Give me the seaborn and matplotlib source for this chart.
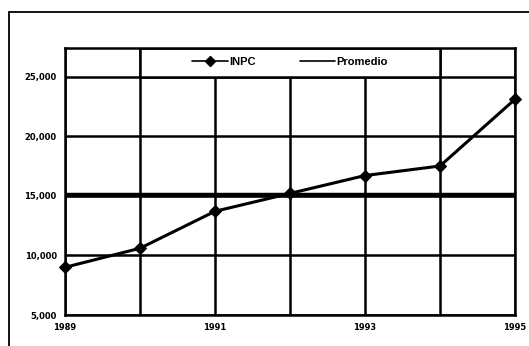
import matplotlib
matplotlib.use("Agg")
import matplotlib.pyplot as plt
from matplotlib.lines import Line2D
from matplotlib.patches import Rectangle
import seaborn as sns
import pandas as pd

years = [1989, 1990, 1991, 1992, 1993, 1994, 1995]
inpc = [9000, 10600, 13700, 15200, 16700, 17500, 23100]
promedio = 15100
ytick_values = [5000, 10000, 15000, 20000, 25000]
ytick_labels = ["5,000", "10,000", "15,000", "20,000", "25,000"]
xtick_labels = ["1989", "", "1991", "", "1993", "", "1995"]
legend_labels = ["INPC", "Promedio"]

sns.set_theme(style="white")
plt.rcParams["font.family"] = ["Liberation Sans Narrow", "Liberation Sans", "DejaVu Sans"]
plt.rcParams["text.color"] = "black"
plt.rcParams["xtick.color"] = "black"
plt.rcParams["ytick.color"] = "black"

df = pd.DataFrame({"Año": years, "INPC": inpc})

fig = plt.figure(figsize=(5.29, 3.46), dpi=100)
W, H = 529, 346
ax = fig.add_axes([65 / W, 1 - 315 / H, 450 / W, 267 / H])

# outer frame (left and top only visible)
fig.add_artist(Line2D([9 / W, 9 / W], [0, 1 - 12 / H], color="black", lw=1.3))
fig.add_artist(Line2D([9 / W, 1], [1 - 12 / H, 1 - 12 / H], color="black", lw=1.3))

ax.set_xlim(years[0], years[-1])
ax.set_ylim(ytick_values[0], 27400)

ax.set_xticks(years)
ax.set_xticklabels(xtick_labels)
ax.set_yticks(ytick_values)
ax.set_yticklabels(ytick_labels)
ax.grid(True, color="black", lw=1.8)
ax.set_axisbelow(True)
ax.tick_params(length=0, pad=6)
for lab in ax.get_xticklabels() + ax.get_yticklabels():
    lab.set_fontweight("bold")
    lab.set_fontfamily("DejaVu Sans")
    lab.set_fontsize(6)
    lab.set_color("black")
for s in ax.spines.values():
    s.set_color("black")
    s.set_linewidth(1.8)

# legend band covering the top gridlines between 1990 and 1994
band = Rectangle((years[1], ytick_values[-1]), years[5] - years[1], 27400 - ytick_values[-1],
                 facecolor="white", edgecolor="black", lw=1.8, zorder=2.5)
ax.add_patch(band)

ax.axhline(promedio, color="black", lw=3.2, zorder=3)
sns.lineplot(data=df, x="Año", y="INPC", ax=ax, color="black", lw=2.2,
             marker="D", markersize=6.5, markeredgecolor="black", zorder=4,
             clip_on=False)
ax.set_xlabel("")
ax.set_ylabel("")

handles = [Line2D([], [], color="black", lw=1.2, marker="D", markersize=5.5),
           Line2D([], [], color="black", lw=1.2)]
leg = ax.legend(handles, legend_labels, loc="center", ncol=2, frameon=False,
                bbox_to_anchor=((years[3] - years[0]) / (years[-1] - years[0]),
                                (26200 - 5000) / (27400 - 5000)),
                handlelength=3.2, handletextpad=0.1, columnspacing=4.0,
                prop={"weight": "bold", "size": 8})
for t in leg.get_texts():
    t.set_color("black")
leg.set_zorder(5)

fig.savefig("out.png", dpi=100)
